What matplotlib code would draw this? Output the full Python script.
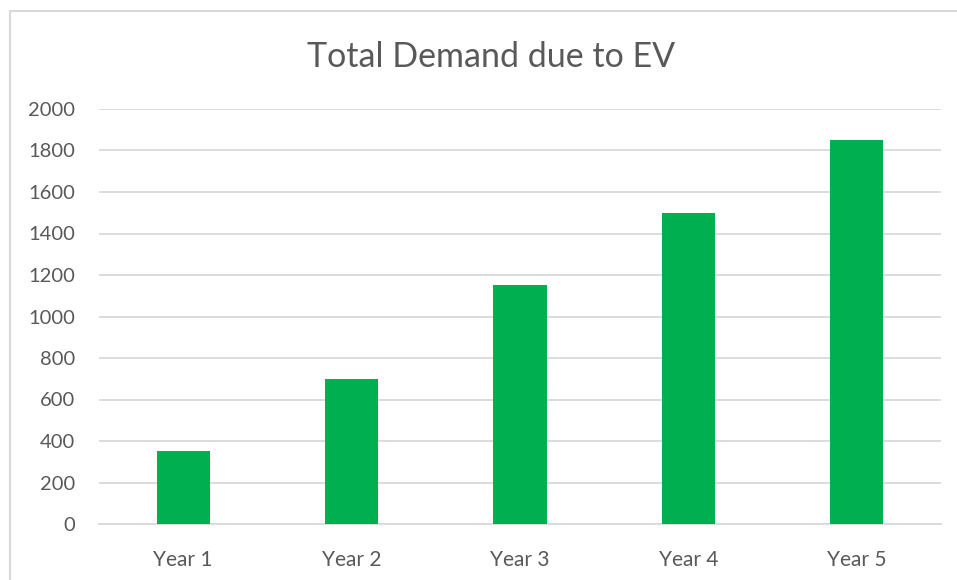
import matplotlib
matplotlib.use("Agg")
import matplotlib.pyplot as plt
from matplotlib.patches import Rectangle

years = ["Year 1", "Year 2", "Year 3", "Year 4", "Year 5"]
demand = [350, 700, 1150, 1500, 1850]
y_ticks = [0, 200, 400, 600, 800, 1000, 1200, 1400, 1600, 1800, 2000]

W, H = 957, 580
TEXT = "#595959"
GRID = "#d9d9d9"
GREEN = "#00b050"

plt.rcParams["font.family"] = ["Lato", "DejaVu Sans"]

fig = plt.figure(figsize=(W / 100, H / 100), dpi=100)
fig.patch.set_facecolor("white")

# chart frame, clipped by the right and bottom edges of the canvas
fig.patches.append(Rectangle((10 / W, -0.1), 1.2, (H - 11) / H + 0.1,
                             transform=fig.transFigure, fill=False,
                             edgecolor=GRID, linewidth=1.5))

ax = fig.add_axes([99 / W, (H - 524) / H, 842 / W, (524 - 109) / H])
x = range(len(years))
ax.bar(x, demand, width=0.315, color=GREEN, zorder=3)

ax.set_xlim(-0.5, len(years) - 0.5)
ax.set_ylim(0, 2000)
ax.set_yticks(y_ticks)
ax.set_yticklabels([str(v) for v in y_ticks])
ax.set_xticks(list(x))
ax.set_xticklabels(years)
ax.yaxis.grid(True, color=GRID, linewidth=1.3, zorder=0)
ax.tick_params(axis="y", length=0, labelsize=14.5, colors=TEXT, pad=17)
ax.tick_params(axis="x", length=0, labelsize=15, colors=TEXT, pad=19)
for s in ["top", "right", "left"]:
    ax.spines[s].set_visible(False)
ax.spines["bottom"].set_color(GRID)
ax.spines["bottom"].set_linewidth(1.3)

fig.text(491 / W, 1 - 57 / H, "Total Demand due to EV", ha="center",
         va="center", fontsize=24.5, color=TEXT)

fig.savefig("out.png", dpi=100, facecolor="white")
